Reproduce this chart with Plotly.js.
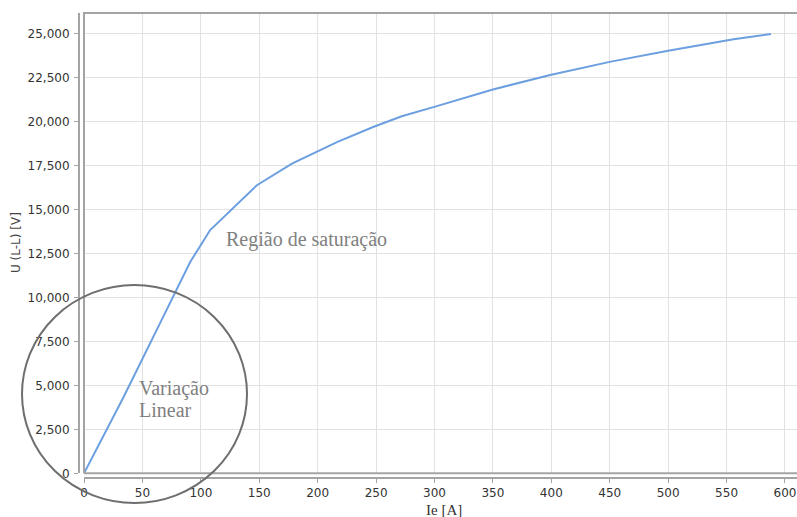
<!DOCTYPE html>
<html>
<head>
<meta charset="utf-8">
<script src="https://cdn.plot.ly/plotly-3.0.1.min.js"></script>
<style>html,body{margin:0;padding:0;background:#fff;}#chart{width:797px;height:517px;}</style>
</head>
<body>
<div id="chart"></div>
<script>
// Excitation current Ie [A]
var ieValues = [0, 34, 65, 91, 108, 148, 178, 217, 248, 272, 302, 350, 399, 451, 500, 556, 588];
// Line-to-line voltage U [V]
var uValues = [0, 4350, 8520, 12020, 13820, 16370, 17600, 18830, 19690, 20290, 20860, 21810, 22630, 23390, 24010, 24660, 24960];

var xTicks = [0, 50, 100, 150, 200, 250, 300, 350, 400, 450, 500, 550, 600];
var yTicks = [0, 2500, 5000, 7500, 10000, 12500, 15000, 17500, 20000, 22500, 25000];
var yTickLabels = ["0", "2,500", "5,000", "7,500", "10,000", "12,500", "15,000", "17,500", "20,000", "22,500", "25,000"];

var xTitle = "Ie [A]";
var yTitle = "U (L-L) [V]";
var noteSaturation = "Região de saturação";
var noteLinear1 = "Variação";
var noteLinear2 = "Linear";

// geometry helpers (pixels -> paper)
var W = 797, H = 517, ML = 79, MR = 0, MT = 13, MB = 39;
var PW = W - ML - MR, PH = H - MT - MB;
function px(x) { return (x - ML) / PW; }
function py(y) { return (H - MB - y) / PH; }

var axisCol = "#a4a4a4";
var gridCol = "#e2e2e2";

var trace = {
  x: ieValues,
  y: uValues,
  type: "scatter",
  mode: "lines",
  line: { color: "#6c9fe0", width: 2 },
  hoverinfo: "x+y"
};

var layout = {
  width: W,
  height: H,
  margin: { l: ML, r: MR, t: MT, b: MB, pad: 0 },
  paper_bgcolor: "#ffffff",
  plot_bgcolor: "#ffffff",
  showlegend: false,
  font: { family: "DejaVu Sans", size: 12, color: "#333" },
  xaxis: {
    domain: [px(84), 1],
    range: [0, (797 - 84) / 1.1683],
    anchor: "free",
    position: 0,
    tickvals: xTicks,
    ticktext: xTicks.map(String),
    ticks: "outside",
    ticklen: 4,
    tickwidth: 1,
    tickcolor: axisCol,
    showline: true,
    linecolor: axisCol,
    linewidth: 2,
    showgrid: true,
    gridcolor: gridCol,
    gridwidth: 1,
    zeroline: false,
    tickfont: { family: "DejaVu Sans", size: 12, color: "#333" }
  },
  yaxis: {
    domain: [py(473.3), 1],
    range: [0, (473.3 - 13) / 0.0176],
    anchor: "free",
    position: 0,
    tickvals: yTicks,
    ticktext: yTickLabels,
    ticks: "outside",
    ticklen: 4,
    tickwidth: 1,
    tickcolor: axisCol,
    showline: true,
    linecolor: axisCol,
    linewidth: 2,
    showgrid: true,
    gridcolor: gridCol,
    gridwidth: 1,
    zeroline: false,
    ticklabelstandoff: 2,
    tickfont: { family: "DejaVu Sans", size: 12, color: "#333" }
  },
  shapes: [
    // inner data-area border: left, bottom, top
    { type: "line", xref: "paper", yref: "paper", x0: px(84), x1: px(84), y0: py(473.3), y1: 1, line: { color: axisCol, width: 2 } },
    { type: "line", xref: "paper", yref: "paper", x0: px(84), x1: 1, y0: py(473.3), y1: py(473.3), line: { color: axisCol, width: 2 } },
    { type: "line", xref: "paper", yref: "paper", x0: px(83), x1: 1, y0: 1, y1: 1, line: { color: axisCol, width: 2 } },
    // hand-drawn circle around the linear region
    { type: "circle", xref: "paper", yref: "paper", x0: px(22), x1: px(247), y0: py(503), y1: py(285), line: { color: "#6e6e6e", width: 2 }, fillcolor: "rgba(0,0,0,0)" }
  ],
  annotations: [
    { text: xTitle, xref: "paper", yref: "paper", x: px(444), y: py(510), xanchor: "center", yanchor: "middle", showarrow: false, font: { family: "Liberation Serif", size: 15, color: "#333" } },
    { text: yTitle, xref: "paper", yref: "paper", x: px(16), y: py(243), xanchor: "center", yanchor: "middle", textangle: -90, showarrow: false, font: { family: "DejaVu Sans", size: 12, color: "#444" } },
    { text: noteSaturation, xref: "x", yref: "y", x: (224 - 84) / 1.1683, y: (473.3 - 239) / 0.0176, xanchor: "left", yanchor: "middle", showarrow: false, font: { family: "Liberation Serif", size: 20, color: "#808080" } },
    { text: noteLinear1, xref: "x", yref: "y", x: (137 - 84) / 1.1683, y: (473.3 - 388) / 0.0176, xanchor: "left", yanchor: "middle", showarrow: false, font: { family: "Liberation Serif", size: 20, color: "#808080" } },
    { text: noteLinear2, xref: "x", yref: "y", x: (137 - 84) / 1.1683, y: (473.3 - 410) / 0.0176, xanchor: "left", yanchor: "middle", showarrow: false, font: { family: "Liberation Serif", size: 20, color: "#808080" } }
  ]
};

Plotly.newPlot("chart", [trace], layout, { displayModeBar: false, staticPlot: true });
</script>
</body>
</html>
